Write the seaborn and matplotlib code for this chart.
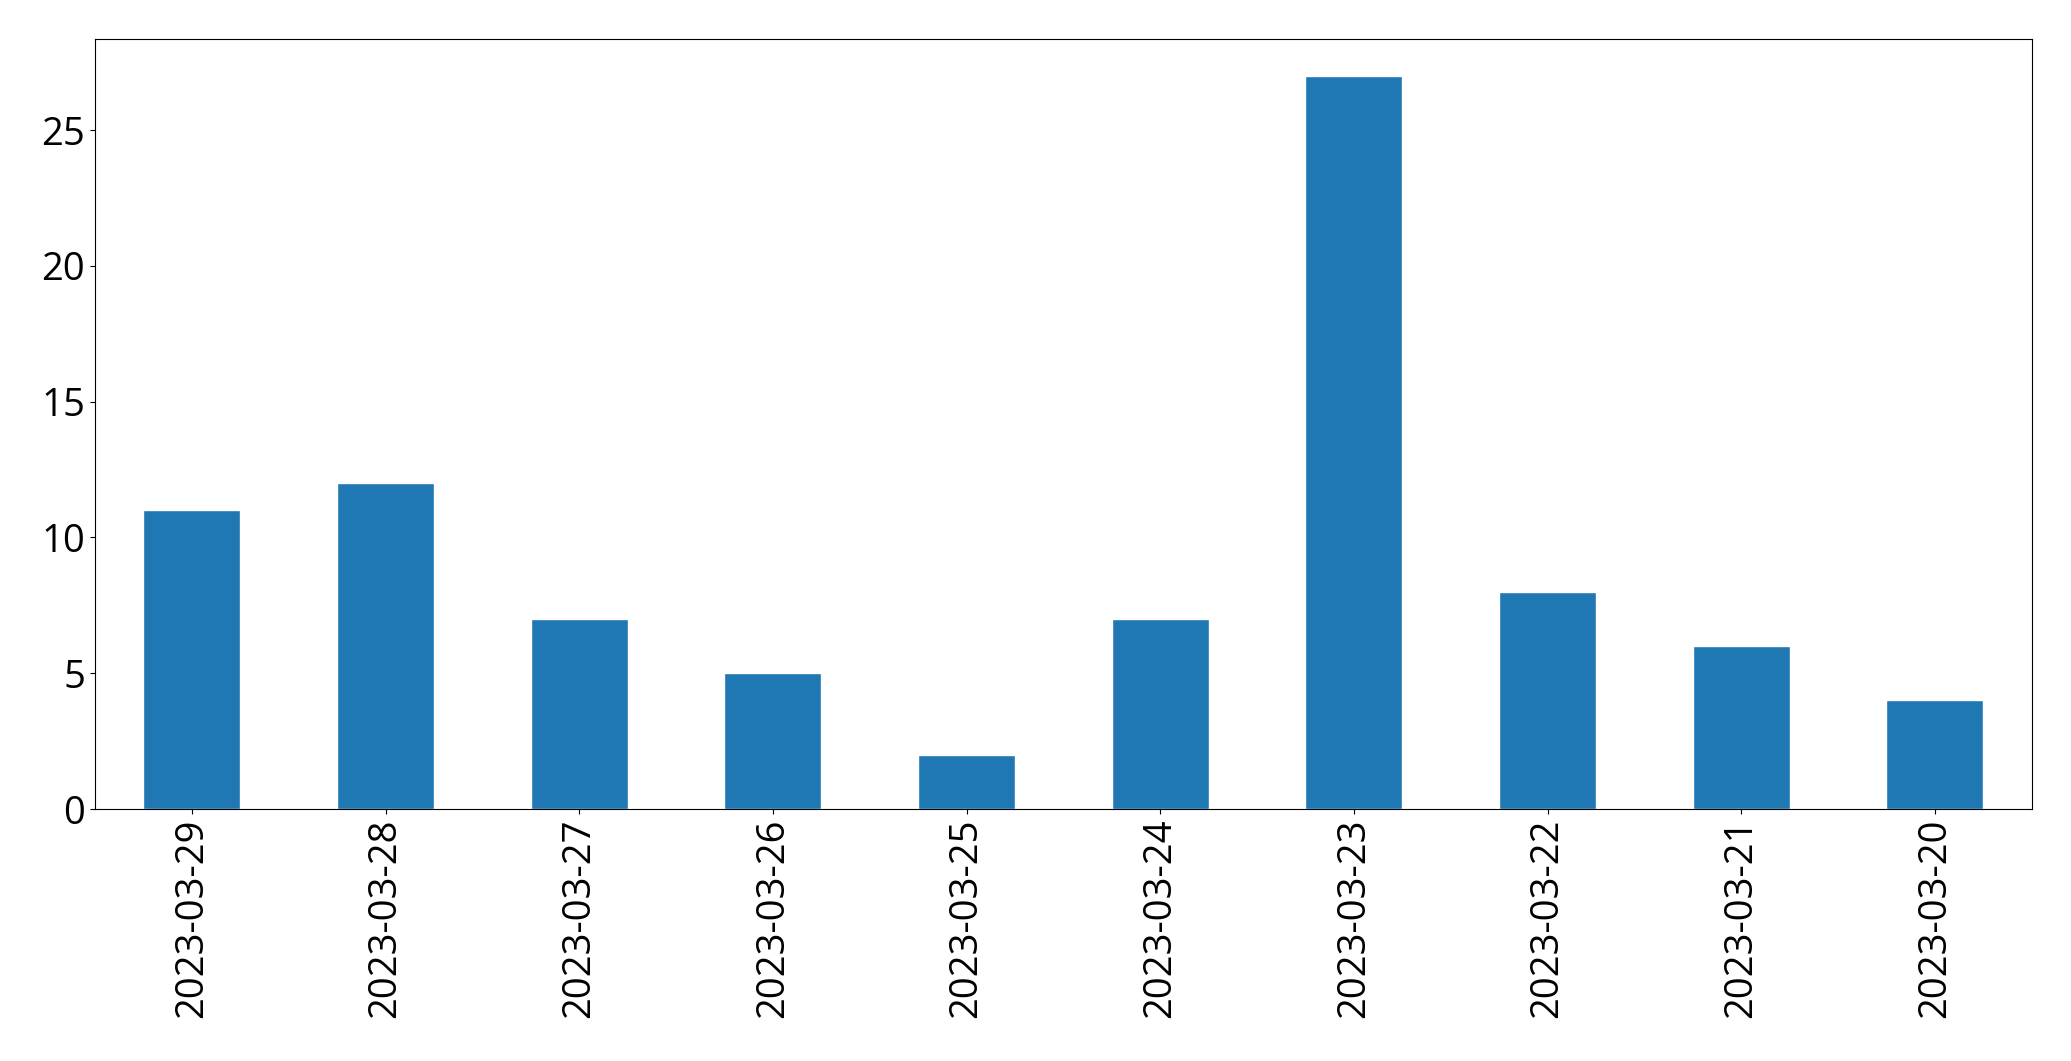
import matplotlib
matplotlib.use("Agg")
import matplotlib.pyplot as plt
import seaborn as sns
import pandas as pd

dates = ["2023-03-29", "2023-03-28", "2023-03-27", "2023-03-26", "2023-03-25",
         "2023-03-24", "2023-03-23", "2023-03-22", "2023-03-21", "2023-03-20"]
counts = [11, 12, 7, 5, 2, 7, 27, 8, 6, 4]

sns.set_style("ticks")
plt.rcParams['font.family'] = ['Open Sans', 'DejaVu Sans']

df = pd.DataFrame({"date": dates, "count": counts})

fig, ax = plt.subplots(figsize=(20.71, 10.61), dpi=100)
fig.subplots_adjust(left=0.0459, right=0.981, top=0.963, bottom=0.2375)
sns.barplot(data=df, x="date", y="count", color="#1f77b4", saturation=1,
            width=0.5, ax=ax, order=dates)
ax.set_xlim(-0.5, len(dates) - 0.5)
ax.set_ylim(0, 28.35)
ax.set_xlabel("")
ax.set_ylabel("")
ax.tick_params(axis="both", labelsize=27.5, length=3.5, width=0.8,
               colors="black", labelcolor="black")
for lbl in ax.get_xticklabels():
    lbl.set_rotation(90)
for s in ax.spines.values():
    s.set_visible(True)
    s.set_linewidth(0.8)
    s.set_color("black")
fig.savefig("out.png", dpi=100)
